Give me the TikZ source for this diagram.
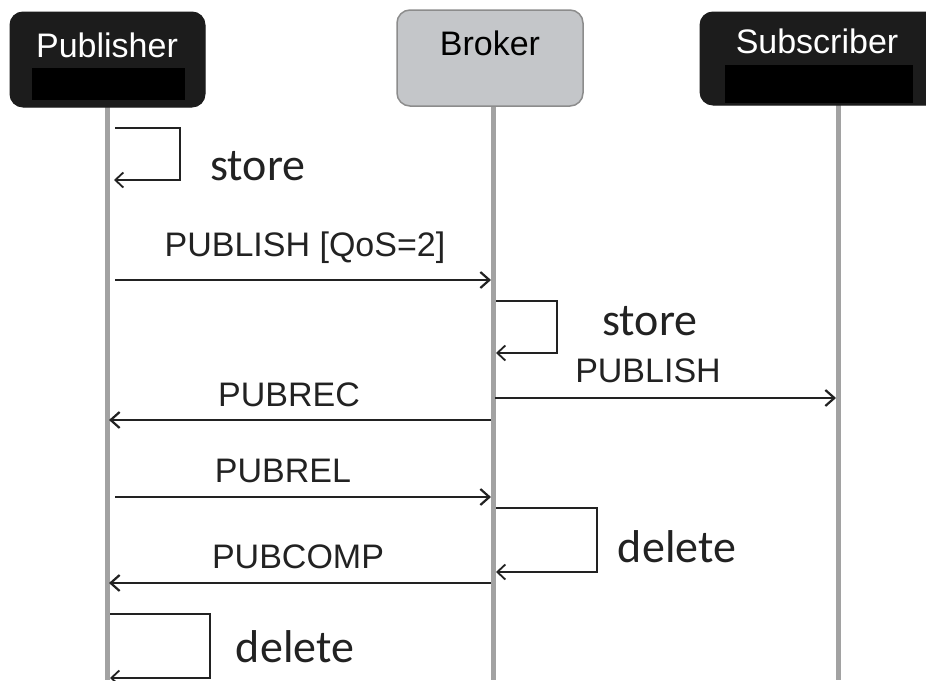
\documentclass[tikz,border=0pt]{standalone}
\usepackage{fontspec}
\setmainfont{Liberation Sans}
\newfontfamily\notefont{Carlito}
\usetikzlibrary{arrows.meta}
\definecolor{lifegray}{HTML}{A2A2A2}
\definecolor{brokerfill}{HTML}{C4C6C9}
\definecolor{brokeredge}{HTML}{8C8C8C}
\definecolor{headblack}{HTML}{1C1C1C}
\definecolor{inkc}{HTML}{222222}
\begin{document}
\begin{tikzpicture}[x=1pt,y=-1pt,
  darkhead/.style={draw=headblack, fill=headblack, rounded corners=13pt, line width=1pt, inner sep=0pt},
  greyhead/.style={draw=brokeredge, fill=brokerfill, rounded corners=13pt, line width=1.5pt, inner sep=0pt},
  band/.style={fill=black, draw=none, inner sep=0pt},
  headtext/.style={font=\fontsize{34}{40}\selectfont, anchor=base, inner sep=0pt},
  lifeline/.style={draw=lifegray, line width=5pt},
  msg/.style={draw=inkc, line width=2.4pt, -{Straight Barb[length=9pt,width=16pt,line width=2.2pt]}},
  selfmsg/.style={draw=inkc, line width=1.8pt, -{Straight Barb[length=8pt,width=15pt,line width=1.8pt]}},
  msglabel/.style={font=\fontsize{34}{40}\selectfont, text=inkc, anchor=base, inner sep=0pt},
  notelabel/.style={font=\notefont\fontsize{46}{52}\selectfont, text=inkc, anchor=base, inner sep=0pt}]
\useasboundingbox (0,0) rectangle (926,680);
\fill[white] (0,0) rectangle (926,680);

% lifelines
\coordinate (pubtop) at (107,107);
\coordinate (pubbot) at (107,680);
\coordinate (brotop) at (493,106);
\coordinate (brobot) at (493,680);
\coordinate (subtop) at (838,105);
\coordinate (subbot) at (838,680);
\draw[lifeline] (pubtop) -- (pubbot);
\draw[lifeline] (brotop) -- (brobot);
\draw[lifeline] (subtop) -- (subbot);

% heads
\node[darkhead, minimum width=195pt, minimum height=95pt] (pubhead) at (107.5,59.5) {};
\node[band, minimum width=153pt, minimum height=32pt] (pubband) at (108.5,84) {};
\node[headtext, text=white] (pubname) at (107,57) {Publisher};

\node[greyhead, minimum width=186pt, minimum height=96pt] (brohead) at (490,58) {};
\node[headtext, text=black] (broname) at (490,55) {Broker};

\begin{scope}
\clip (0,0) rectangle (926,680);
\node[darkhead, minimum width=245pt, minimum height=93pt] (subhead) at (822.5,58.5) {};
\end{scope}
\node[band, minimum width=188pt, minimum height=38pt] (subband) at (819,84) {};
\node[headtext, text=white] (subname) at (817,53) {Subscriber};

% self message: publisher store
\coordinate (ps1) at (115,128);
\coordinate (ps2) at (180,128);
\coordinate (ps3) at (180,180);
\coordinate (ps4) at (114,180);
\draw[selfmsg] (ps1) -- (ps2) -- (ps3) -- (ps4);
\node[notelabel] (pstore) at (258,180) {store};

% PUBLISH [QoS=2]
\coordinate (m1a) at (115,280);
\coordinate (m1b) at (491,280);
\draw[msg] (m1a) -- (m1b);
\node[msglabel] (m1lab) at (305,256) {PUBLISH [QoS=2]};

% broker store
\coordinate (bs1) at (496,301);
\coordinate (bs2) at (557,301);
\coordinate (bs3) at (557,353);
\coordinate (bs4) at (496,353);
\draw[selfmsg] (bs1) -- (bs2) -- (bs3) -- (bs4);
\node[notelabel] (bstore) at (650,335) {store};

% PUBLISH to subscriber
\coordinate (m2a) at (495,398);
\coordinate (m2b) at (836,398);
\draw[msg] (m2a) -- (m2b);
\node[msglabel] (m2lab) at (648,382) {PUBLISH};

% PUBREC
\coordinate (m3a) at (491,420);
\coordinate (m3b) at (109,420);
\draw[msg] (m3a) -- (m3b);
\node[msglabel] (m3lab) at (289,406) {PUBREC};

% PUBREL
\coordinate (m4a) at (115,497);
\coordinate (m4b) at (491,497);
\draw[msg] (m4a) -- (m4b);
\node[msglabel] (m4lab) at (283,482) {PUBREL};

% broker delete
\coordinate (bd1) at (496,508);
\coordinate (bd2) at (597,508);
\coordinate (bd3) at (597,572);
\coordinate (bd4) at (496,572);
\draw[selfmsg] (bd1) -- (bd2) -- (bd3) -- (bd4);
\node[notelabel] (bdel) at (677,562) {delete};

% PUBCOMP
\coordinate (m5a) at (491,583);
\coordinate (m5b) at (109,583);
\draw[msg] (m5a) -- (m5b);
\node[msglabel] (m5lab) at (298,568) {PUBCOMP};

% publisher delete
\coordinate (pd1) at (110,614);
\coordinate (pd2) at (210,614);
\coordinate (pd3) at (210,678);
\coordinate (pd4) at (110,678);
\draw[selfmsg] (pd1) -- (pd2) -- (pd3) -- (pd4);
\node[notelabel] (pdel) at (295,662) {delete};
\end{tikzpicture}
\end{document}
